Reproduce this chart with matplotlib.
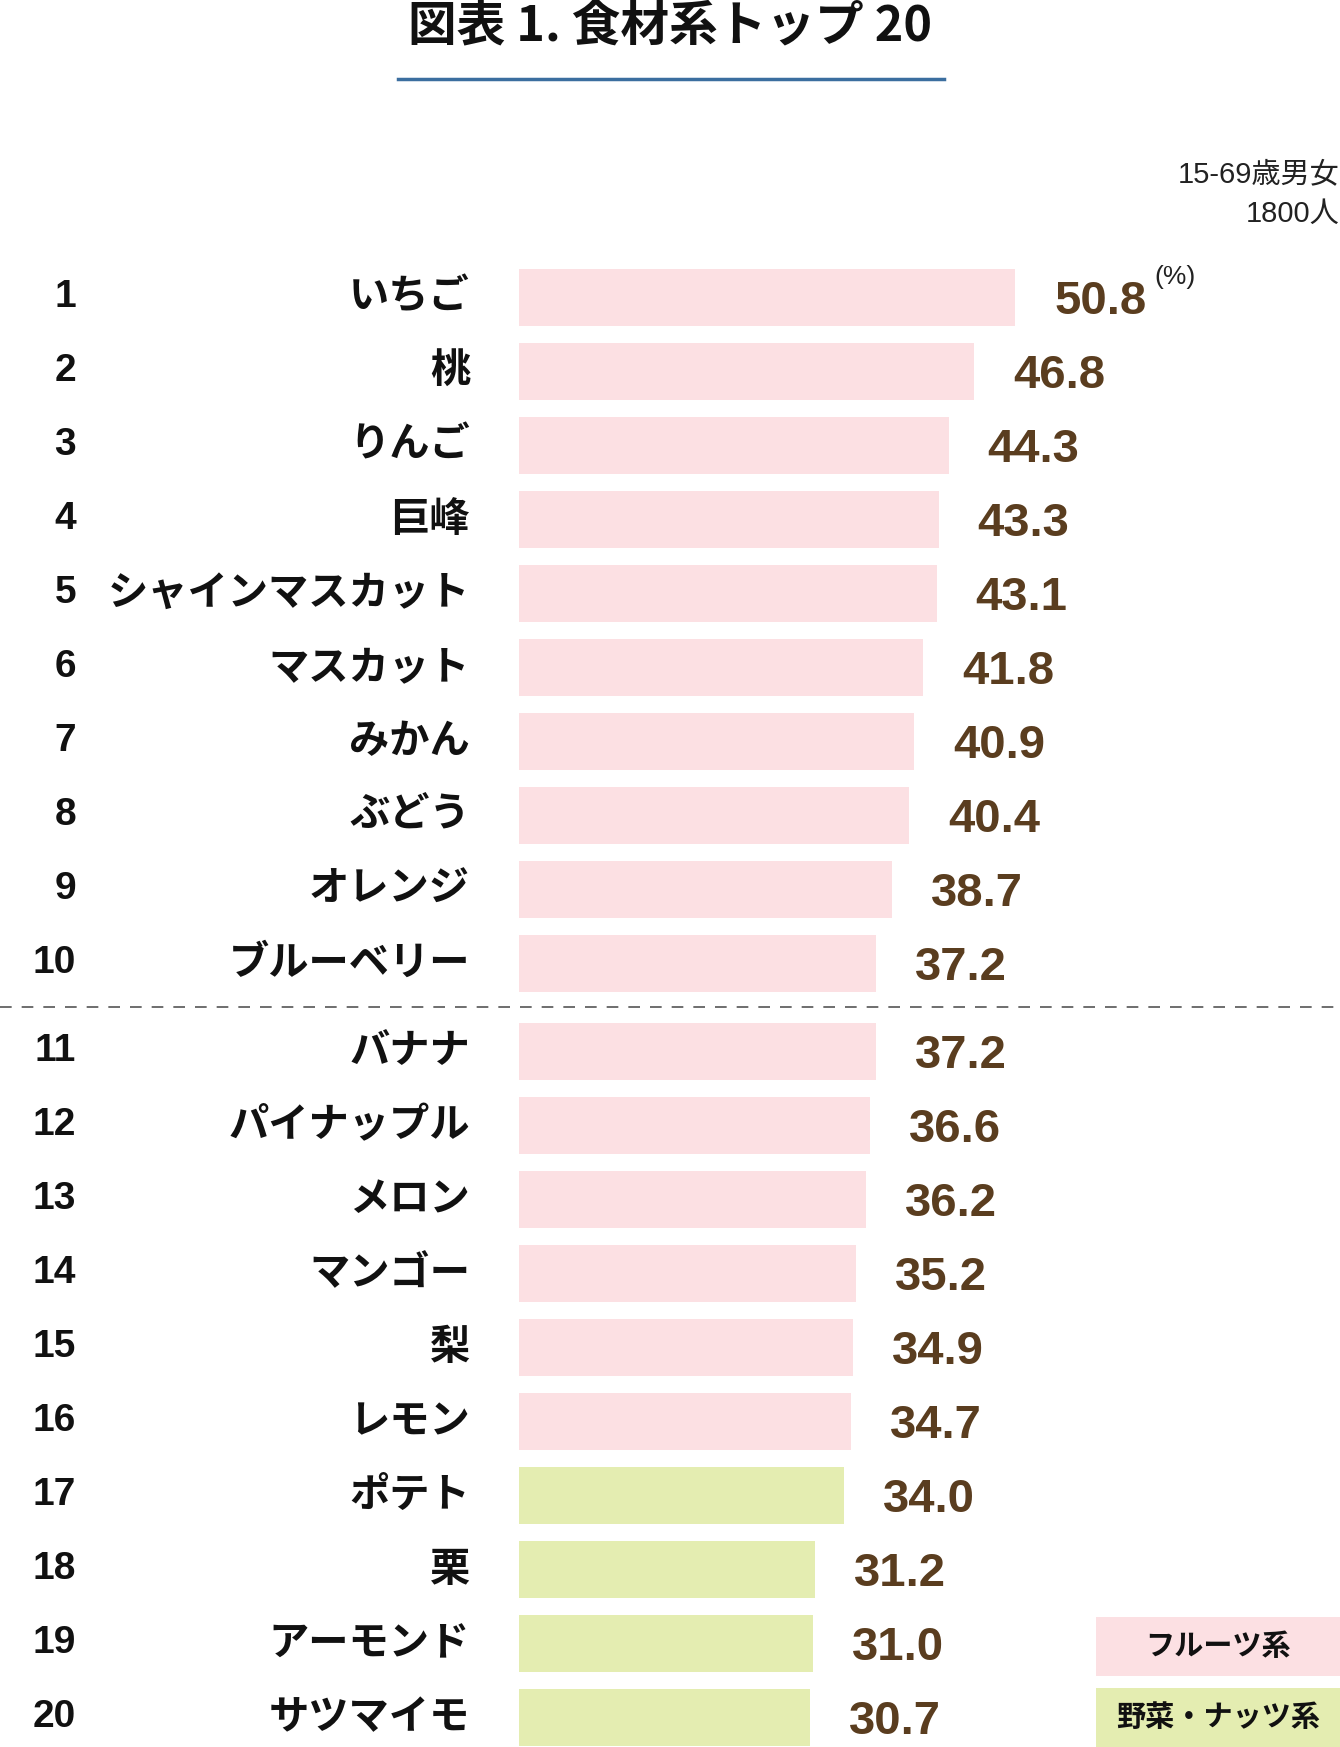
import matplotlib
matplotlib.use('Agg')
import matplotlib.pyplot as plt
import matplotlib.transforms as mtransforms
from matplotlib.patches import Rectangle
from matplotlib.lines import Line2D

# data
ranks = list(range(1, 21))
items = ['いちご', '桃', 'りんご', '巨峰', 'シャインマスカット', 'マスカット', 'みかん', 'ぶどう',
         'オレンジ', 'ブルーベリー', 'バナナ', 'パイナップル', 'メロン', 'マンゴー', '梨', 'レモン',
         'ポテト', '栗', 'アーモンド', 'サツマイモ']
values = [50.8, 46.8, 44.3, 43.3, 43.1, 41.8, 40.9, 40.4, 38.7, 37.2,
          37.2, 36.6, 36.2, 35.2, 34.9, 34.7, 34.0, 31.2, 31.0, 30.7]
groups = ['フルーツ系'] * 16 + ['野菜・ナッツ系'] * 4
group_colors = {'フルーツ系': '#fce0e3', '野菜・ナッツ系': '#e4edb1'}

title = '図表 1. 食材系トップ 20'
note = ['15-69歳男女', '1800人']

W, H = 1340, 1747
jp = ['Noto Sans CJK JP', 'DejaVu Sans']
num = ['Liberation Sans', 'DejaVu Sans']
mixed = ['Liberation Sans', 'Noto Sans CJK JP']

fig = plt.figure(figsize=(W / 100, H / 100), dpi=100)
fig.patch.set_facecolor('white')

# bar axes: left edge at px 519, ~10.2 px per percent
ax = fig.add_axes([519 / W, 0, 1 - 519 / W, 1])
x0 = 2.16
ax.set_xlim(x0, x0 + (W - 519) / 10.2)
row_px = 74.0
top_px = 297.4
ax.set_ylim((H - top_px) / row_px, -top_px / row_px)
ax.axis('off')

ypos = [i + (0.19 if i >= 10 else 0) for i in range(len(values))]
colors = [group_colors[g] for g in groups]
ax.barh(ypos, [v - x0 for v in values], left=x0, height=0.78, color=colors)

trans = mtransforms.blended_transform_factory(fig.transFigure, ax.transData)
for r, name, v, y in zip(ranks, items, values, ypos):
    ax.text(76 / W, y, str(r), transform=trans, ha='right', va='center',
            fontsize=28, fontweight='bold', family=num, color='#111111')
    ax.text(470 / W, y, name, transform=trans, ha='right', va='center',
            fontsize=29, fontweight='bold', family=jp, color='#111111')
    ax.annotate(f'{v:.1f}', xy=(v, y), xytext=(28, -3), textcoords='offset points',
                ha='left', va='center', fontsize=34, fontweight='bold', family=num,
                color='#5a3d1f')

# unit mark next to the first value
ax.annotate('(%)', xy=(values[0], ypos[0]), xytext=(100, 15), textcoords='offset points',
            ha='left', va='center', fontsize=19, family=num, color='#222222')

# separator between top 10 and the rest
sep = (ypos[9] + ypos[10]) / 2
ax.plot([0, 1], [sep, sep], transform=trans, color='#555555', lw=1.2,
        linestyle=(0, (7, 6)), clip_on=False)

# legend boxes
for g, yc in [('フルーツ系', ypos[18] + 0.04), ('野菜・ナッツ系', ypos[19])]:
    ax.add_patch(Rectangle((1096 / W, yc - 0.4), 1 - 1096 / W, 0.8, transform=trans,
                           facecolor=group_colors[g], edgecolor='none', clip_on=False))
    ax.text(1218 / W, yc, g, transform=trans, ha='center', va='center',
            fontsize=21, fontweight='bold', family=jp, color='#111111')

# title and rule
fig.text(670 / W, 1 - 27 / H, title, ha='center', va='center', fontsize=35,
         fontweight='bold', family=jp, color='#111111')
fig.add_artist(Line2D([398 / W, 944 / W], [1 - 79 / H, 1 - 79 / H],
                      color='#3b6e9f', lw=2.5, transform=fig.transFigure))

fig.text(1339 / W, 1 - 174 / H, note[0], ha='right', va='center', fontsize=21,
         family=mixed, color='#222222')
fig.text(1339 / W, 1 - 214 / H, note[1], ha='right', va='center', fontsize=21,
         family=mixed, color='#222222')

fig.savefig('out.png', dpi=100)
